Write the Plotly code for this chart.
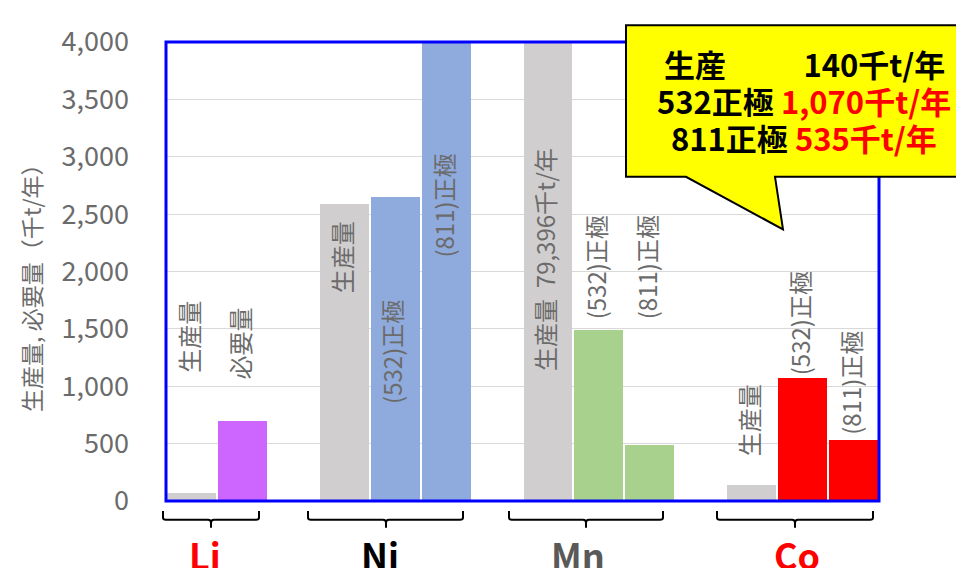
import plotly.graph_objects as go

# ---- data ----
elements = ["Li", "Ni", "Mn", "Co"]
element_colors = ["#FF0000", "#000000", "#595959", "#FF0000"]
bar_names = [
    ["生産量", "必要量"],
    ["生産量", "(532)正極", "(811)正極"],
    ["生産量&nbsp;&nbsp;79,396千t/年", "(532)正極", "(811)正極"],
    ["生産量", "(532)正極", "(811)正極"],
]
bar_values = [
    [70, 700],
    [2590, 2650, 4300],
    [79396, 1490, 490],
    [140, 1070, 535],
]
bar_colors = [
    ["#D0CECE", "#CC66FF"],
    ["#D0CECE", "#8FAADC", "#8FAADC"],
    ["#D0CECE", "#A9D18E", "#A9D18E"],
    ["#D0CECE", "#FF0000", "#FF0000"],
]
# label baseline (data units) where each rotated label starts
label_base = [
    [1105, 1045],
    [1795, 830, 2105],
    [1120, 1565, 1565],
    [370, 1075, 555],
]
y_ticks = list(range(0, 4001, 500))
callout_lines = [
    ("生産", "140千t/年", "#000000"),
    ("532正極", "1,070千t/年", "#FF0000"),
    ("811正極", "535千t/年", "#FF0000"),
]

# ---- layout geometry (target pixel coords; page body adds an 8px offset) ----
OFF = 8
W, H = 964 - OFF, 568 - OFF
L, R, T, B = 166, 879, 38, 501
def px(x):
    return (x - L) / (R - L)
def py(y):
    return (B - y) / (B - T)

xs, ys, cs, texts, bases = [], [], [], [], []
slot = 0
for gi, el in enumerate(elements):
    for bi, v in enumerate(bar_values[gi]):
        xs.append(slot)
        ys.append(v)
        cs.append(bar_colors[gi][bi])
        texts.append(bar_names[gi][bi])
        bases.append(label_base[gi][bi])
        slot += 1
    slot += 1
last_slot = max(xs)

fig = go.Figure()
fig.add_trace(go.Bar(x=xs, y=ys, marker=dict(color=cs, line=dict(width=0)),
                     width=0.96, hoverinfo="skip", showlegend=False))

FONT = "Noto Sans CJK JP"
ann = []
for x, t, b in zip(xs, texts, bases):
    ann.append(dict(x=x, y=b, xref="x", yref="y", text=t, textangle=-90,
                    showarrow=False, xanchor="center", yanchor="bottom", xshift=-3,
                    font=dict(family=FONT, size=24, color="#6B6B6B")))

# y axis title
ann.append(dict(x=px(31), y=py(280), xref="paper", yref="paper",
                text="生産量, 必要量（千t/年）", textangle=-90, showarrow=False,
                xanchor="center", yanchor="middle",
                font=dict(family=FONT, size=23, color="#6B6B6B")))

# element labels under brackets
el_centers = [205, 380, 578, 797]
for el, col, cx in zip(elements, element_colors, el_centers):
    ann.append(dict(x=px(cx), y=py(526), xref="paper", yref="paper", text=f"<b>{el}</b>",
                    showarrow=False, xanchor="center", yanchor="top",
                    font=dict(family=FONT, size=36, color=col)))

shapes = []
# plot border
shapes.append(dict(type="rect", xref="paper", yref="paper", x0=0, x1=1, y0=0, y1=1,
                   line=dict(color="#0000FF", width=3), layer="above"))
# brackets
bracket_px = [(163, 259, 211), (308, 463, 386), (509, 663, 586), (717, 873, 795)]
for x0, x1, xc in bracket_px:
    p = (f"M {px(x0)},{py(511)} L {px(x0)},{py(518)} Q {px(x0)},{py(520)} {px(x0+3)},{py(520)} "
         f"L {px(xc-3)},{py(520)} Q {px(xc)},{py(520)} {px(xc)},{py(523)} L {px(xc)},{py(528)} "
         f"M {px(xc)},{py(523)} Q {px(xc)},{py(520)} {px(xc+3)},{py(520)} "
         f"L {px(x1-3)},{py(520)} Q {px(x1)},{py(520)} {px(x1)},{py(518)} L {px(x1)},{py(511)}")
    shapes.append(dict(type="path", xref="paper", yref="paper", path=p,
                       line=dict(color="#000000", width=2), layer="above"))
# callout
cp = (f"M {px(626)},{py(21)} L {px(975)},{py(21)} L {px(975)},{py(174)} L {px(775)},{py(174)} "
      f"L {px(783)},{py(227)} L {px(686)},{py(174)} L {px(626)},{py(174)} Z")
shapes.append(dict(type="path", xref="paper", yref="paper", path=cp,
                   fillcolor="#FFFF00", line=dict(color="#000000", width=2), layer="above"))

line_y = [60, 97, 134]
gaps = ["&nbsp;" * 11, "&nbsp;", "&nbsp;"]
for (lt, rt, rc), yy, g in zip(callout_lines, line_y, gaps):
    ann.append(dict(x=px(804), y=py(yy), xref="paper", yref="paper",
                    text=f"<b>{lt}{g}<span style='color:{rc}'>{rt}</span></b>",
                    showarrow=False, xanchor="center", yanchor="middle",
                    font=dict(family=FONT, size=31, color="#000000")))

fig.update_layout(
    width=W, height=H,
    margin=dict(l=L - OFF, r=W - (R - OFF), t=T - OFF, b=H - (B - OFF)),
    paper_bgcolor="white", plot_bgcolor="white",
    xaxis=dict(range=[-0.5, last_slot + 0.5], showticklabels=False, showgrid=False,
               zeroline=False, ticks=""),
    yaxis=dict(range=[0, 4000], tickvals=y_ticks, tickformat=",d",
               showgrid=True, gridcolor="#D9D9D9", gridwidth=1, zeroline=False,
               ticks="", ticklabelstandoff=36,
               tickfont=dict(family=FONT, size=27, color="#6B6B6B")),
    annotations=ann, shapes=shapes, bargap=0,
)
fig.write_html("out.html")
